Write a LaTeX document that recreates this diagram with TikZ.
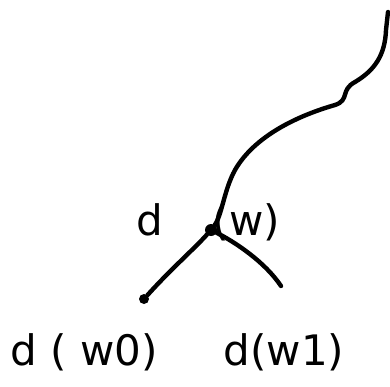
\documentclass[tikz,border=0pt]{standalone}
\usepackage{fontspec}
\setmainfont{DejaVu Sans}
\usetikzlibrary{positioning}

\begin{document}
\begin{tikzpicture}[
    x=1pt,
    y=-1pt,
    line cap=round,
    every node/.style={align=center},
    stroke/.style={line width=4.4pt, black},
    label/.style={font=\fontsize{42}{42}\selectfont, inner sep=0pt},
    knot/.style={circle, fill=black, inner sep=0pt, minimum size=12pt}
]

\useasboundingbox (0,0) rectangle (390,386);

% =================================================
% KNOTEN
% =================================================

% Parent
\node[knot] (w) at (211,230) {};

\node[
    label,
    anchor=east
] (dw) at (280,222)
{d\hspace{50pt}(w)};

% Children
\node[knot, minimum size=10pt] (wzero) at (144,299) {};

\coordinate (wone) at (281,286);

\node[
    label
] (dwzero) at (84,352)
{d ( w0)};

\node[
    label
] (dwone) at (284,352)
{d(w1)};

% Root end
\coordinate (top) at (388,12);

% =================================================
% KANTEN
% =================================================

% Path up to root
\draw[stroke] (w)
    .. controls (222,215) and (224,190) .. (235,170)
    .. controls (255,135) and (300,115) .. (335,105)
    .. controls (350,100) and (340,90) .. (355,82)
    .. controls (375,70) and (385,55) .. (386,30)
    -- (top);

% Edges to children
\draw[stroke] (w)
    .. controls (195,248) and (170,270) .. (wzero);

\draw[stroke] (w)
    .. controls (235,242) and (265,262) .. (wone);

\end{tikzpicture}
\end{document}
